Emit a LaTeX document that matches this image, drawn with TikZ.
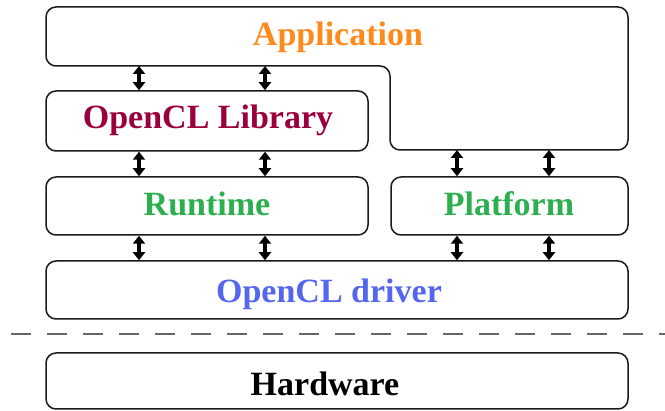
\documentclass[tikz,border=0pt]{standalone}
\usepackage{fontspec}
\setmainfont{Liberation Serif}
\usetikzlibrary{arrows.meta}
\definecolor{appc}{HTML}{FF8A1C}
\definecolor{libc}{HTML}{99003D}
\definecolor{grn}{HTML}{2EAF4F}
\definecolor{blu}{HTML}{5566EE}
\definecolor{edge}{HTML}{1A1A1A}
\tikzset{
  box/.style={draw=edge, line width=1.5pt, rounded corners=10pt, minimum height=58pt, inner sep=0pt},
  lbl/.style={anchor=base, inner sep=0pt, font=\fontsize{34}{40}\selectfont\bfseries},
  biarrow/.style={line width=4pt, draw=black, {Triangle[length=8pt,width=12pt]}-{Triangle[length=8pt,width=12pt]}},
  sep/.style={draw=gray!80!black, line width=2pt, dash pattern=on 20pt off 16pt}
}
\begin{document}
\begin{tikzpicture}[x=1pt,y=-1pt]
\useasboundingbox (0,0) rectangle (665,411);
% Application (L-shaped)
\draw[draw=edge, line width=1.5pt, rounded corners=10pt]
  (46,7) -- (628,7) -- (628,150) -- (390,150) -- (390,66) -- (46,66) -- cycle;
\coordinate (appL) at (46,66);
\coordinate (appR) at (628,150);
\node[lbl, text=appc] (app) at (338,46) {Application};
% boxes
\node[box, minimum width=322pt, minimum height=60pt] (lib) at (207,121) {};
\node[box, minimum width=322pt] (rt) at (207,206) {};
\node[box, minimum width=237pt] (plat) at (509.5,206) {};
\node[box, minimum width=582pt] (drv) at (337,290) {};
\node[box, minimum width=582pt, minimum height=56pt] (hw) at (337,381) {};
% labels
\node[lbl, text=libc] (libt) at (208,129) {OpenCL Library};
\node[lbl, text=grn] (rtt) at (207,216) {Runtime};
\node[lbl, text=grn] (platt) at (509,216) {Platform};
\node[lbl, text=blu] (drvt) at (329,303) {OpenCL driver};
\node[lbl, text=black] (hwt) at (325,396) {Hardware};
% arrow columns
\coordinate (c1) at (139,0);
\coordinate (c2) at (265,0);
\coordinate (c3) at (457,0);
\coordinate (c4) at (549,0);
\draw[biarrow] (appL -| c1) -- (lib.north -| c1);
\draw[biarrow] (appL -| c2) -- (lib.north -| c2);
\draw[biarrow] (lib.south -| c1) -- (rt.north -| c1);
\draw[biarrow] (lib.south -| c2) -- (rt.north -| c2);
\draw[biarrow] (appR -| c3) -- (plat.north -| c3);
\draw[biarrow] (appR -| c4) -- (plat.north -| c4);
\draw[biarrow] (rt.south -| c1) -- (drv.north -| c1);
\draw[biarrow] (rt.south -| c2) -- (drv.north -| c2);
\draw[biarrow] (plat.south -| c3) -- (drv.north -| c3);
\draw[biarrow] (plat.south -| c4) -- (drv.north -| c4);
% separator
\coordinate (sl) at (11,334);
\coordinate (sr) at (665,334);
\draw[sep] (sl) -- (sr);
\end{tikzpicture}
\end{document}
